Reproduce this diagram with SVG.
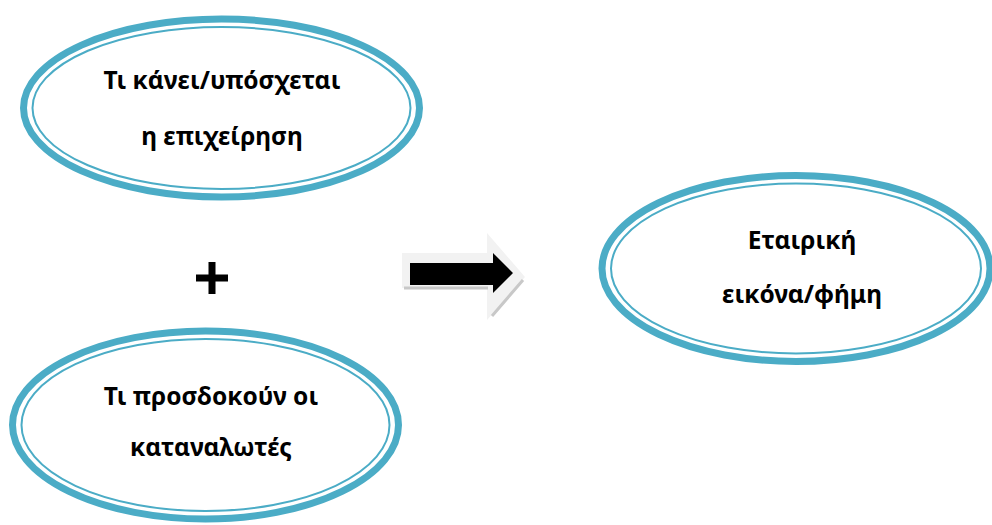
<svg xmlns="http://www.w3.org/2000/svg" width="992" height="525" viewBox="0 0 992 525">
<style>
.outer{fill:#fff;stroke:#4bacc6;stroke-width:7}
.inner{fill:none;stroke:#4bacc6;stroke-width:2}
.t{font-family:"Noto Sans","Open Sans",sans-serif;font-weight:bold;font-size:24.5px;fill:#000;text-anchor:middle}
</style>
<rect width="992" height="525" fill="#fff"/>
<g id="node1">
<ellipse class="outer" cx="221.5" cy="108" rx="198" ry="89"/>
<ellipse class="inner" cx="221.5" cy="108" rx="189" ry="81"/>
<text class="t" x="222" y="89">Τι κάνει/υπόσχεται</text>
<text class="t" x="222" y="145">η επιχείρηση</text>
</g>
<g id="node2">
<ellipse class="outer" cx="205.5" cy="425" rx="193" ry="94"/>
<ellipse class="inner" cx="205.5" cy="425" rx="184" ry="86"/>
<text class="t" x="211" y="405">Τι προσδοκούν οι</text>
<text class="t" x="211" y="456">καταναλωτές</text>
</g>
<g id="node3">
<ellipse class="outer" cx="796" cy="268.5" rx="194" ry="93"/>
<ellipse class="inner" cx="796" cy="268.5" rx="185" ry="85"/>
<text class="t" x="802" y="249">Εταιρική</text>
<text class="t" x="802" y="303">εικόνα/φήμη</text>
</g>
<g id="plus">
<path d="M212 262 V294 M196 278 H228" stroke="#000" stroke-width="7"/>
</g>
<g id="connectors">
<path d="M402 253 H487 V233 L525 277 L487 320 V288 H402 Z" fill="#f2f2f2"/>
<path d="M404 288 H488 M492 316 L523 280" stroke="#c8c8c8" stroke-width="3" fill="none"/>
<path d="M410 263 H493 V253 L513 273 L493 293 V285 H410 Z" fill="#000"/>
</g>
</svg>
